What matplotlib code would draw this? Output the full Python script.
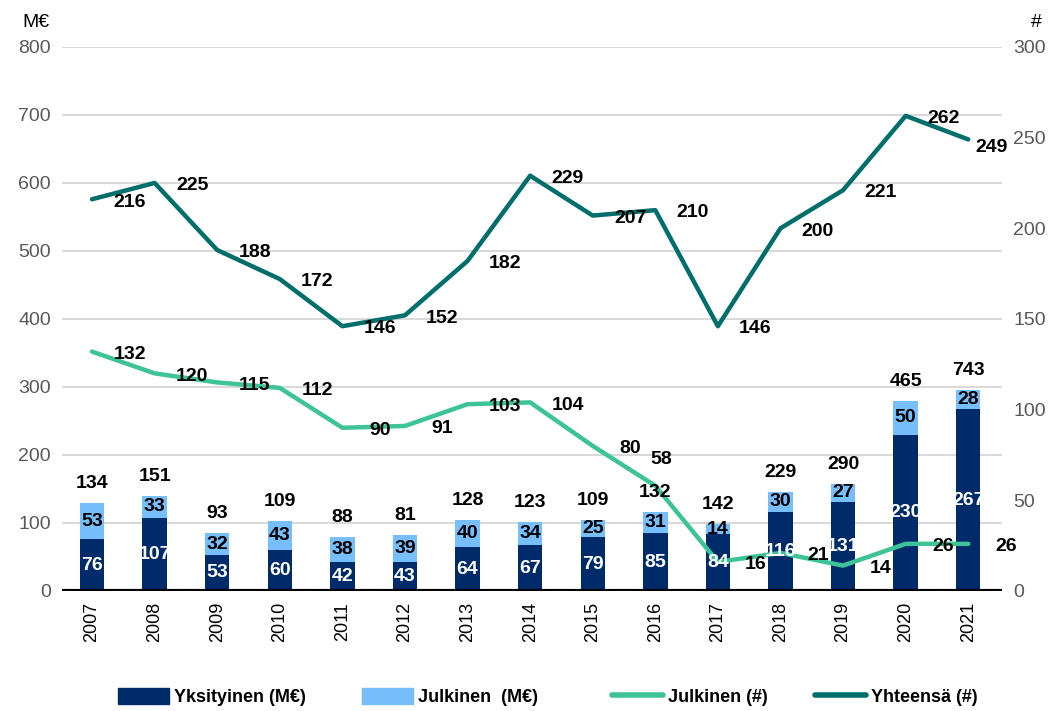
import numpy as np
import matplotlib.pyplot as plt
from matplotlib.lines import Line2D
from matplotlib.patches import Patch

plt.rcParams['font.family'] = ['Liberation Sans', 'DejaVu Sans']

years = ['2007', '2008', '2009', '2010', '2011', '2012', '2013', '2014',
         '2015', '2016', '2017', '2018', '2019', '2020', '2021']
yksityinen_me = [76, 107, 53, 60, 42, 43, 64, 67, 79, 85, 84, 116, 131, 230, 267]
julkinen_me = [53, 33, 32, 43, 38, 39, 40, 34, 25, 31, 14, 30, 27, 50, 28]
top_labels = [134, 151, 93, 109, 88, 81, 128, 123, 109, 132, 142, 229, 290, 465, 743]
julkinen_n = [132, 120, 115, 112, 90, 91, 103, 104, 80, 58, 16, 21, 14, 26, 26]
yhteensa_n = [216, 225, 188, 172, 146, 152, 182, 229, 207, 210, 146, 200, 221, 262, 249]

c_dark = '#002B6B'
c_light = '#77BEFC'
c_green = '#3DC496'
c_teal = '#006E6A'

fig = plt.figure(figsize=(10.56, 7.11), dpi=100)
ax = fig.add_axes([0.0587, 0.1688, 0.8902, 0.7652])
ax2 = ax.twinx()

x = np.arange(len(years))
w = 0.39
ax.bar(x, yksityinen_me, w, color=c_dark, zorder=2)
ax.bar(x, julkinen_me, w, bottom=yksityinen_me, color=c_light, zorder=2)

ax.set_xlim(-0.48, 14.54)
ax.set_ylim(0, 800)
ax.set_yticks(range(0, 801, 100))
ax.grid(axis='y', color='#d9d9d9', lw=1.5, zorder=0)
ax.set_axisbelow(True)
ax.axhline(0, color='black', lw=3, zorder=3)
for s in ax.spines.values():
    s.set_visible(False)
for s in ax2.spines.values():
    s.set_visible(False)
ax.tick_params(axis='y', length=0, labelsize=14, labelcolor='#595959', pad=8)
ax.tick_params(axis='x', length=0, labelsize=13, pad=8)
ax.set_xticks(x)
ax.set_xticklabels(years, rotation=90)

ax2.set_ylim(0, 300)
ax2.set_yticks(range(0, 301, 50))
ax2.tick_params(axis='y', length=0, labelsize=14, labelcolor='#595959', pad=8)

ax2.plot(x, julkinen_n, color=c_green, lw=3.2, solid_capstyle='round', zorder=3)
ax2.plot(x, yhteensa_n, color=c_teal, lw=3.2, solid_capstyle='round', zorder=3)

fig.text(0.021, 0.968, 'M€', fontsize=14, va='center', ha='left')
fig.text(0.981, 0.968, '#', fontsize=14, va='center', ha='center')

lab = dict(fontsize=14, fontweight='bold', ha='center', va='center', zorder=6)
for i in range(len(years)):
    ax2.text(x[i], yksityinen_me[i] / 2, str(yksityinen_me[i]), color='white',
             transform=ax.transData, **lab)
    ax2.text(x[i], yksityinen_me[i] + julkinen_me[i] / 2, str(julkinen_me[i]),
             color='black', transform=ax.transData, **lab)
    ax2.annotate(str(top_labels[i]), (x[i], yksityinen_me[i] + julkinen_me[i]),
                 xycoords=ax.transData, xytext=(0, 14), textcoords='offset points',
                 color='black', **lab)

for i in range(len(years)):
    off = (27, -2)
    if i == 9:
        off = (4, 19)
    ax2.annotate(str(julkinen_n[i]), (x[i], julkinen_n[i]), xytext=off,
                 textcoords='offset points', **lab)
    off = (27, -2)
    if i == 14:
        off = (17, -6)
    ax2.annotate(str(yhteensa_n[i]), (x[i], yhteensa_n[i]), xytext=off,
                 textcoords='offset points', **lab)

# legend: one entry each, at the reference positions
handles = [Patch(color=c_dark), Patch(color=c_light),
           Line2D([], [], color=c_green, lw=4, solid_capstyle='round'),
           Line2D([], [], color=c_teal, lw=4, solid_capstyle='round')]
names = ['Yksityinen (M€)', 'Julkinen  (M€)', 'Julkinen (#)', 'Yhteensä (#)']
lx = [118, 362, 612, 815]
for h, n, px in zip(handles, names, lx):
    lg = fig.legend([h], [n], loc='center left', bbox_to_anchor=(px / 1056, 0.02),
                    frameon=False, borderpad=0, borderaxespad=0, handlelength=2.8,
                    handleheight=1.0, handletextpad=0.3,
                    prop={'size': 13, 'weight': 'bold'})

fig.savefig('out.png', dpi=100)
